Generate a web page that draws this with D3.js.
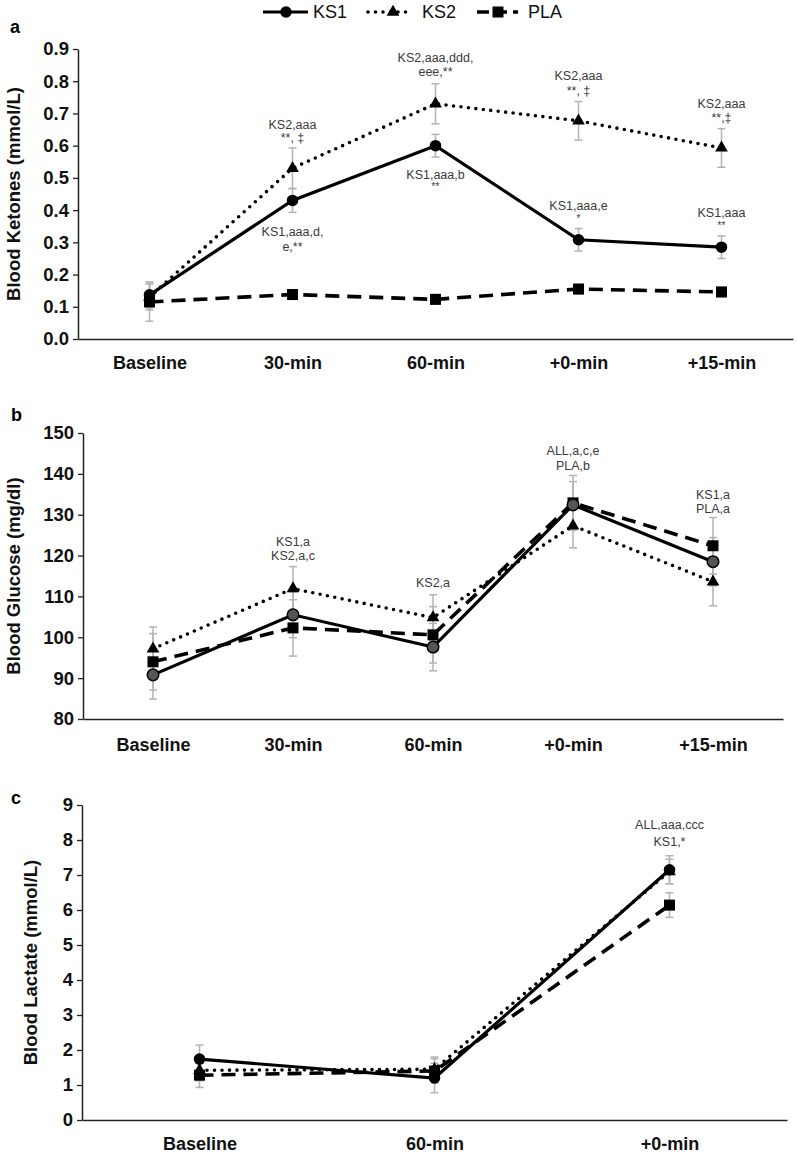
<!DOCTYPE html>
<html><head><meta charset="utf-8">
<script src="https://cdn.jsdelivr.net/npm/d3@7"></script>
<style>body{margin:0;background:#fff}svg{display:block;font-family:"Liberation Sans",Arial,sans-serif}</style>
</head><body><svg id="c" width="797" height="1156"></svg>
<script>
// ---------- DATA ----------
const seriesNames = ["KS1","KS2","PLA"];

const catsA = ["Baseline","30-min","60-min","+0-min","+15-min"];
const ks1A = [0.137,0.43,0.60,0.308,0.285];
const ks2A = [0.13,0.53,0.73,0.677,0.593];
const plaA = [0.115,0.138,0.123,0.155,0.146];
const ks1AErr = [0.04,0.037,0.035,0.035,0.035];
const ks2AErr = [0.04,0.063,0.062,0.06,0.06];
const plaAErr = [0.06,0.015,0.015,0.015,0.015];
const ticksA = [0,0.1,0.2,0.3,0.4,0.5,0.6,0.7,0.8,0.9];

const catsB = ["Baseline","30-min","60-min","+0-min","+15-min"];
const ks1B = [90.8,105.5,97.6,132.4,118.5];
const ks2B = [97.2,111.9,104.8,127.3,113.6];
const plaB = [94.0,102.3,100.6,132.9,122.4];
const ks1BErr = [5.9,5.6,5.8,5.7,5.9];
const ks2BErr = [5.3,5.4,5.6,5.4,5.9];
const plaBErr = [6.9,6.9,6.9,6.7,6.9];
const ticksB = [80,90,100,110,120,130,140,150];

const catsC = ["Baseline","60-min","+0-min"];
const ks1C = [1.74,1.2,7.15];
const ks2C = [1.42,1.45,7.1];
const plaC = [1.28,1.4,6.14];
const ks1CErr = [0.4,0.42,0.4];
const ks2CErr = [0.3,0.35,0.35];
const plaCErr = [0.35,0.35,0.35];
const ticksC = [0,1,2,3,4,5,6,7,8,9];

const annA = [
  {cat:"30-min", v:0.53, lines:["KS2,aaa","**, ‡"], dy:[-43,-30]},
  {cat:"30-min", v:0.43, lines:["KS1,aaa,d,","e,**"], dy:[32,47]},
  {cat:"60-min", v:0.73, lines:["KS2,aaa,ddd,","eee,**"], dy:[-46,-32]},
  {cat:"60-min", v:0.60, lines:["KS1,aaa,b","**"], dy:[29,41]},
  {cat:"+0-min", v:0.677, lines:["KS2,aaa","**, ‡"], dy:[-45,-30]},
  {cat:"+0-min", v:0.308, lines:["KS1,aaa,e","*"], dy:[-34,-21]},
  {cat:"+15-min", v:0.593, lines:["KS2,aaa","**,‡"], dy:[-44,-30]},
  {cat:"+15-min", v:0.285, lines:["KS1,aaa","**"], dy:[-34,-22]}
];
const annB = [
  {cat:"30-min", v:111.9, lines:["KS1,a","KS2,a,c"], dy:[-47,-33]},
  {cat:"60-min", v:104.8, lines:["KS2,a"], dy:[-35]},
  {cat:"+0-min", v:132.9, lines:["ALL,a,c,e","PLA,b"], dy:[-52,-37]},
  {cat:"+15-min", v:122.4, lines:["KS1,a","PLA,a"], dy:[-51,-37]}
];
const annC = [
  {cat:"+0-min", v:7.15, lines:["ALL,aaa,ccc","KS1,*"], dy:[-45,-28]}
];

// ---------- DRAW ----------
const svg = d3.select("#c");
const styles = {
  KS1:{dash:null, cap:"butt", w:3.2, marker:d3.symbolCircle, size:105},
  KS2:{dash:"0,7.5", cap:"round", w:3.6, marker:d3.symbolTriangle, size:70},
  PLA:{dash:"14,8", cap:"butt", w:3.6, marker:d3.symbolSquare, size:121}
};

function panel(cfg){
  const g = svg.append("g");
  const x = d3.scalePoint().domain(cfg.cats).range([cfg.x0,cfg.x1]).padding(0.5);
  const y = d3.scaleLinear().domain(cfg.domain).range([cfg.y1,cfg.y0]);
  // axes
  const ya = g.append("g").attr("transform",`translate(${cfg.x0},0)`)
    .call(d3.axisLeft(y).tickValues(cfg.ticks).tickSize(5).tickSizeOuter(0).tickFormat(cfg.fmt));
  ya.select(".domain").attr("stroke","#222").attr("stroke-width",1.5);
  ya.selectAll(".tick line").attr("stroke","#222").attr("stroke-width",1.3);
  ya.selectAll(".tick text").attr("x",-9).attr("font-size",18.5).attr("font-weight","bold").attr("fill","#111")
    .attr("font-family","Liberation Sans, Arial, sans-serif");
  const xa = g.append("g").attr("transform",`translate(0,${cfg.y1})`)
    .call(d3.axisBottom(x).tickSize(0).tickSizeOuter(0));
  xa.select(".domain").attr("stroke","#222").attr("stroke-width",1.5);
  xa.selectAll(".tick text").attr("y",cfg.xlabDy).attr("font-size",18).attr("font-weight","bold").attr("fill","#111")
    .attr("font-family","Liberation Sans, Arial, sans-serif");
  // y title
  g.append("text").attr("transform",`translate(${cfg.titleX},${(cfg.y0+cfg.y1)/2}) rotate(-90)`)
    .attr("text-anchor","middle").attr("dominant-baseline","central")
    .attr("font-size",18.5).attr("font-weight","bold").attr("fill","#111").text(cfg.title);
  // panel letter
  g.append("text").attr("x",cfg.letterX).attr("y",cfg.letterY).attr("font-size",18).attr("font-weight","bold").text(cfg.letter);
  // error bars
  cfg.series.forEach(s=>{
    s.vals.forEach((v,i)=>{
      const cx = x(cfg.cats[i]), e = s.err[i];
      const eg = g.append("g").attr("stroke","#b3b3b3").attr("stroke-width",1.5);
      eg.append("line").attr("x1",cx).attr("x2",cx).attr("y1",y(v-e)).attr("y2",y(v+e));
      eg.append("line").attr("x1",cx-4).attr("x2",cx+4).attr("y1",y(v-e)).attr("y2",y(v-e));
      eg.append("line").attr("x1",cx-4).attr("x2",cx+4).attr("y1",y(v+e)).attr("y2",y(v+e));
    });
  });
  // lines
  const line = d3.line().x((d,i)=>x(cfg.cats[i])).y(d=>y(d));
  cfg.series.slice().reverse().forEach(s=>{
    const st = styles[s.name];
    g.append("path").attr("d",line(s.vals)).attr("fill","none").attr("stroke","#000")
      .attr("stroke-width",st.w).attr("stroke-dasharray",st.dash).attr("stroke-linecap",st.cap);
  });
  // markers
  cfg.series.slice().reverse().forEach(s=>{
    const st = styles[s.name];
    s.vals.forEach((v,i)=>{
      g.append("path").attr("d",d3.symbol().type(st.marker).size(st.size)())
        .attr("transform",`translate(${x(cfg.cats[i])},${y(v)})`)
        .attr("fill", s.name==="KS1" && cfg.grayCircle ? "#555" : "#000")
        .attr("stroke","#000").attr("stroke-width", s.name==="KS1" && cfg.grayCircle ? 1.5 : 0);
    });
  });
  // annotations
  cfg.ann.forEach(a=>{
    a.lines.forEach((t,j)=>{
      const star = /^\*+$/.test(t);
      g.append("text").attr("x",x(a.cat)).attr("y",y(a.v)+a.dy[j]).attr("text-anchor","middle")
        .attr("dominant-baseline","central").attr("font-size",star?10:12.5).attr("fill","#3a3a3a")
        .attr("font-family","Liberation Sans, DejaVu Sans, sans-serif").text(t);
    });
  });
}

panel({cats:catsA, domain:[0,0.9], ticks:ticksA, fmt:d3.format(".1f"), x0:78, x1:793, y0:49, y1:339,
  xlabDy:17, title:"Blood Ketones (mmol/L)", titleX:13, letter:"a", letterX:10, letterY:33, ann:annA,
  series:[{name:"KS1",vals:ks1A,err:ks1AErr},{name:"KS2",vals:ks2A,err:ks2AErr},{name:"PLA",vals:plaA,err:plaAErr}]});
panel({cats:catsB, domain:[80,150], ticks:ticksB, fmt:d3.format("d"), x0:83, x1:783, y0:433, y1:719,
  xlabDy:19, title:"Blood Glucose (mg/dl)", titleX:13, letter:"b", letterX:11, letterY:421, ann:annB, grayCircle:true,
  series:[{name:"KS1",vals:ks1B,err:ks1BErr},{name:"KS2",vals:ks2B,err:ks2BErr},{name:"PLA",vals:plaB,err:plaBErr}]});
panel({cats:catsC, domain:[0,9], ticks:ticksC, fmt:d3.format("d"), x0:82, x1:787, y0:805, y1:1120,
  xlabDy:17, title:"Blood Lactate (mmol/L)", titleX:30, letter:"c", letterX:11, letterY:804, ann:annC,
  series:[{name:"KS1",vals:ks1C,err:ks1CErr},{name:"KS2",vals:ks2C,err:ks2CErr},{name:"PLA",vals:plaC,err:plaCErr}]});

// legend
const leg = [{name:"KS1",x1:263,x2:308,mx:286,tx:313},{name:"KS2",x1:368,x2:413,mx:393,tx:422},{name:"PLA",x1:477,x2:518,mx:498,tx:528}];
const lg = svg.append("g");
leg.forEach(l=>{
  const st = styles[l.name];
  lg.append("line").attr("x1",l.x1).attr("x2",l.x2).attr("y1",12).attr("y2",12).attr("stroke","#000")
    .attr("stroke-width",st.w).attr("stroke-dasharray",l.name==="PLA"?"12,6":st.dash).attr("stroke-linecap",st.cap);
  lg.append("path").attr("d",d3.symbol().type(st.marker).size(st.size)()).attr("transform",`translate(${l.mx},12)`).attr("fill","#000");
  lg.append("text").attr("x",l.tx).attr("y",12).attr("dominant-baseline","central").attr("font-size",18).attr("fill","#111").text(l.name);
});
</script></body></html>
